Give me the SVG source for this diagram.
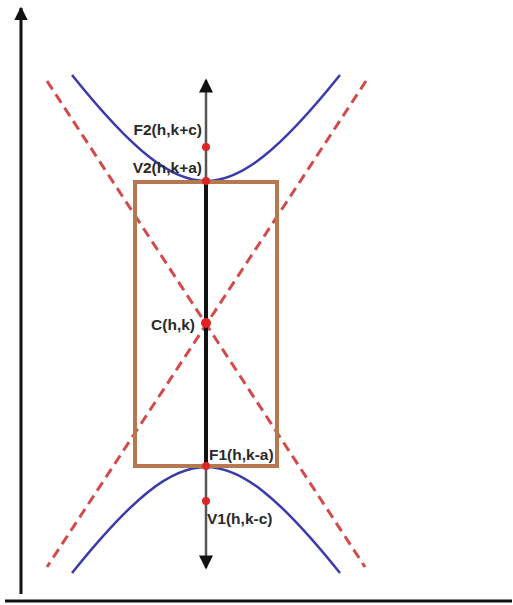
<svg xmlns="http://www.w3.org/2000/svg" width="513" height="605" viewBox="0 0 513 605">
<style>
.axis{stroke:#111;stroke-width:3;fill:none}
.asym{stroke:#d24a4a;stroke-width:3;stroke-dasharray:10 6;fill:none}
.hyp{stroke:#3a3aac;stroke-width:2.5;fill:none}
.box{stroke:#b7784f;stroke-width:4;fill:none}
.dot{fill:#e02424}
.lbl{font-family:"Liberation Sans",Arial,sans-serif;font-weight:bold;font-size:15.5px;fill:#2a2a2a}
</style>
<defs>
<marker id="ah" viewBox="0 0 10 10" refX="9" refY="5" markerWidth="4.5" markerHeight="4.5" markerUnits="strokeWidth" orient="auto"><path d="M0,0 L10,5 L0,10 Z" fill="#111"/></marker>
<marker id="ah2" viewBox="0 0 10 10" refX="9" refY="5" markerWidth="7" markerHeight="5.6" markerUnits="strokeWidth" orient="auto"><path d="M0,0 L10,5 L0,10 Z" fill="#111"/></marker>
</defs>
<rect width="513" height="605" fill="#fff"/>
<g id="connectors">
<line id="y-axis" class="axis" x1="21" y1="594" x2="21" y2="8" marker-end="url(#ah)"/>
<line id="x-axis" class="axis" x1="5" y1="601" x2="512" y2="601"/>
<line id="asym1" class="asym" x1="47" y1="81" x2="365" y2="567"/>
<line id="asym2" class="asym" x1="366" y1="81" x2="47" y2="567"/>
<path id="upper-branch" class="hyp" d="M72,75 C103.45,114.17 127.61,139.85 148.76,156.58 C169.91,173.31 187.94,181 206,181 C224.06,181 242.09,173.31 263.24,156.58 C284.39,139.85 308.55,114.17 340,75"/>
<path id="lower-branch" class="hyp" d="M72,573 C103.45,533.83 127.61,508.15 148.76,491.42 C169.91,474.69 187.94,467 206,467 C224.06,467 242.09,474.69 263.24,491.42 C284.39,508.15 308.55,533.83 340,573"/>
<line id="axis-up" stroke="#555" stroke-width="2.5" x1="206" y1="324" x2="206" y2="80" marker-end="url(#ah2)"/>
<line id="axis-down" stroke="#555" stroke-width="2.5" x1="206" y1="324" x2="206" y2="568" marker-end="url(#ah2)"/>
<line id="axis-mid" stroke="#111" stroke-width="4" x1="206" y1="183" x2="206" y2="466"/>
</g>
<g id="box"><rect class="box" x="135" y="182" width="142" height="284"/></g>
<g id="F2"><circle class="dot" cx="206" cy="147" r="4"/><text class="lbl" x="202" y="135" text-anchor="end">F2(h,k+c)</text></g>
<g id="V2"><circle class="dot" cx="206" cy="181" r="4"/><text class="lbl" x="202" y="173" text-anchor="end">V2(h,k+a)</text></g>
<g id="C"><circle class="dot" cx="206" cy="323" r="5"/><text class="lbl" x="195" y="330" text-anchor="end">C(h,k)</text></g>
<g id="F1"><circle class="dot" cx="206" cy="466" r="4"/><text class="lbl" x="209" y="460">F1(h,k-a)</text></g>
<g id="V1"><circle class="dot" cx="206" cy="501" r="4"/><text class="lbl" x="207" y="524">V1(h,k-c)</text></g>
</svg>
